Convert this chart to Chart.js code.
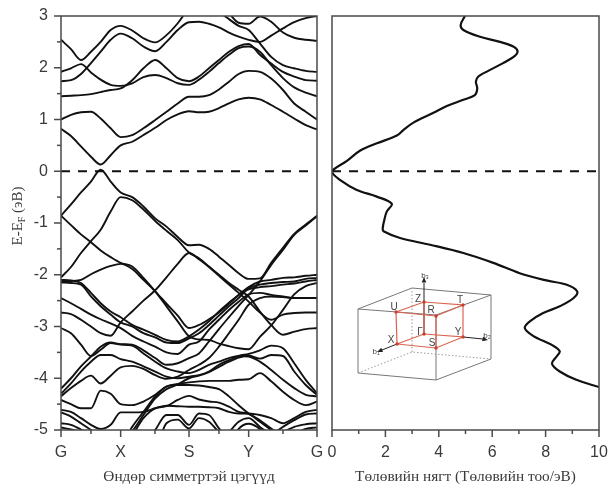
<!DOCTYPE html>
<html>
<head>
<meta charset="utf-8">
<script src="https://cdn.jsdelivr.net/npm/chart.js@4"></script>
<style>
  html, body { margin: 0; padding: 0; background: #fff; overflow: hidden; }
  canvas { position: absolute; top: 0; filter: blur(0.45px); }
  #bands { left: 0; }
  #dos { left: 325px; }
</style>
</head>
<body>
<canvas id="bands" width="325" height="487"></canvas>
<canvas id="dos" width="283" height="487"></canvas>
<script>
// ----------------- datos -----------------
const kTicks = [0, 0.233, 0.5, 0.733, 1];
const kLabels = ["G", "X", "S", "Y", "G"];
const kGrid = [0, 0.039, 0.078, 0.117, 0.155, 0.194, 0.233, 0.278, 0.322, 0.368, 0.412, 0.456, 0.5,
  0.539, 0.578, 0.617, 0.656, 0.694, 0.733, 0.777, 0.821, 0.867, 0.911, 0.956, 1];

const bandA = [.82,.68,.48,.28,.13,.31,.5,.57,.7,.84,.99,1.1,1.16,1.14,1.15,1.22,1.31,1.39,1.42,1.39,1.28,1.15,1.02,.89,.81];
const bandB = [1,1.09,1.14,1.15,1.02,.83,.66,.7,.83,.99,1.15,1.31,1.44,1.44,1.47,1.58,1.73,1.88,1.94,1.92,1.79,1.57,1.31,1.15,1];
const bandC = [1.45,1.46,1.47,1.49,1.53,1.57,1.6,1.76,1.99,2.15,1.99,1.8,1.74,1.83,1.99,2.15,2.31,2.42,2.46,2.25,2.08,1.92,1.83,1.76,1.75];
const bandD = [1.92,1.99,2.07,1.91,1.77,1.67,1.65,1.7,1.82,1.86,1.8,1.7,1.67,1.77,1.92,2.09,2.25,2.38,2.41,2.31,2.05,1.8,1.62,1.52,1.45];
const bandE = [2.54,2.36,2.15,2.31,2.5,2.73,2.81,2.72,2.57,2.49,2.63,2.86,3.15,3.3,3.3,3.2,3.05,2.87,2.85,2.99,2.89,2.68,2.58,2.54,2.52];
const bandF = [1.74,1.76,1.88,2.09,2.31,2.54,2.66,2.57,2.41,2.32,2.5,2.73,2.88,2.89,2.85,2.78,2.68,2.6,2.54,2.5,2.62,2.76,2.88,2.96,3];
const bandG = [3.4,3.4,3.4,3.4,3.4,3.4,3.4,3.4,3.4,3.4,3.4,3.4,3.4,3.4,3.4,3.1,2.94,2.81,2.73,2.47,2.21,2.05,1.99,1.94,1.92];

const band01 = [-.86,-.64,-.41,-.2,.03,-.2,-.41,-.5,-.68,-.91,-1.07,-1.27,-1.43,-1.42,-1.5,-1.65,-1.81,-1.97,-2.08,-2.07,-1.77,-1.48,-1.21,-1.03,-.86];
const band02 = [-2.05,-1.85,-1.58,-1.35,-1.13,-.78,-.5,-.56,-.74,-.96,-1.15,-1.33,-1.57,-1.68,-1.84,-2,-2.16,-2.29,-2.42,-2.71,-2.97,-3.16,-3.1,-3.05,-3.03];
const band03 = [-.86,-1.04,-1.22,-1.37,-1.53,-1.66,-1.77,-1.84,-2.06,-2.32,-2.61,-2.9,-3.19,-3.25,-3.26,-3.33,-3.38,-3.42,-3.44,-3.2,-2.98,-2.68,-2.38,-2.22,-2.16];
const band04 = [-2.1,-2.11,-2.16,-2.35,-2.55,-2.71,-2.82,-2.97,-3.06,-3.16,-3.26,-3.29,-3.19,-3.06,-2.9,-2.71,-2.54,-2.39,-2.28,-2.24,-2.22,-2.19,-2.17,-2.13,-2.1];
const band05 = [-2.15,-2.16,-2.19,-2.42,-2.61,-2.77,-2.92,-3,-3.13,-3.21,-3.31,-3.32,-3.23,-3.13,-2.97,-2.79,-2.61,-2.45,-2.26,-2.19,-2.16,-2.14,-2.13,-2.08,-2.06];
const band06 = [-2.13,-2.12,-2.1,-1.99,-1.9,-1.83,-1.79,-1.89,-2.1,-2.32,-2.56,-2.79,-3.03,-2.97,-2.86,-2.73,-2.56,-2.39,-2.24,-2.13,-2.1,-2.06,-2.05,-2.02,-2];
const band07 = [-2.45,-2.55,-2.66,-2.77,-2.86,-2.94,-3.03,-3.18,-3.29,-3.39,-3.5,-3.53,-3.35,-3.29,-3.06,-2.87,-2.68,-2.52,-2.38,-2.35,-2.39,-2.42,-2.45,-2.45,-2.45];
const band08 = [-2.73,-2.76,-2.87,-3,-3.13,-3.18,-2.92,-2.71,-2.5,-2.3,-2.05,-1.79,-1.58,-1.7,-1.85,-2.02,-2.19,-2.35,-2.52,-2.73,-2.87,-2.77,-2.74,-2.73,-2.73];
const band09 = [-3.03,-3.13,-3.35,-3.57,-3.45,-3.32,-3.35,-3.37,-3.52,-3.68,-3.81,-3.87,-3.9,-3.84,-3.74,-3.68,-3.61,-3.57,-3.58,-3.68,-3.84,-4.03,-4.19,-4.32,-4.35];
const band10 = [-4.2,-4,-3.77,-3.58,-3.39,-3.31,-3.34,-3.35,-3.46,-3.61,-3.74,-3.71,-3.61,-3.52,-3.29,-3.05,-2.82,-2.6,-2.39,-2.13,-1.81,-1.52,-1.23,-1.05,-.87];
const band11 = [-4.3,-4.1,-3.87,-3.68,-3.55,-3.55,-3.63,-3.68,-3.77,-3.87,-3.97,-4,-3.97,-3.94,-3.87,-3.74,-3.65,-3.57,-3.53,-3.46,-3.37,-3.42,-3.71,-4.03,-4.29];
const band12 = [-4.35,-4.19,-4.05,-3.95,-4.1,-3.95,-3.79,-3.76,-3.82,-3.94,-4.01,-3.97,-3.84,-3.74,-3.61,-3.39,-3.13,-2.87,-2.58,-2.45,-2.42,-2.43,-2.45,-2.45,-2.45];
const band13 = [-4.42,-4.5,-4.58,-4.58,-4.24,-4.3,-4.5,-4.52,-4.45,-4.32,-4.16,-4.13,-4.13,-4.14,-4.17,-4.21,-4.35,-4.52,-4.68,-4.81,-4.97,-5.1,-5.2,-5.3,-5.3];
const band14 = [-5.3,-5.3,-5.3,-5.3,-5.3,-5.3,-5.3,-4.94,-4.65,-4.35,-4.16,-4.11,-4.08,-4.06,-4.05,-4.05,-4.05,-4.03,-4.02,-3.9,-4.06,-4.26,-4.42,-4.52,-4.45];
const band15 = [-4.87,-4.9,-4.99,-5.1,-5.3,-5.3,-5.3,-5.03,-4.71,-4.39,-4.21,-4.12,-4,-3.95,-3.88,-3.78,-3.68,-3.6,-3.56,-3.62,-3.55,-3.57,-3.87,-4.13,-4.32];
const band16 = [-4.61,-4.65,-4.77,-4.9,-4.98,-4.9,-4.66,-4.66,-4.65,-4.58,-4.53,-4.54,-4.55,-4.55,-4.56,-4.58,-4.65,-4.68,-4.68,-4.71,-4.77,-4.87,-4.77,-4.65,-4.61];
const band17 = [-4.66,-4.74,-4.87,-5,-5.15,-5.3,-5.3,-5.3,-5.3,-5,-4.71,-4.71,-4.9,-4.68,-4.71,-4.97,-5.2,-5.3,-5.3,-5.3,-5.1,-4.94,-4.81,-4.7,-4.68];
const band18 = [-4.95,-4.99,-5.05,-5.2,-5.3,-5.3,-5.3,-5.3,-5.3,-5.3,-4.87,-4.8,-4.97,-4.77,-4.84,-5.05,-5.3,-5.3,-5.3,-5.3,-5.3,-5.05,-4.94,-4.89,-4.87];
const band19 = [-5.3,-5.3,-5.3,-5.3,-5.3,-5.3,-5.3,-5.1,-4.77,-4.58,-4.54,-4.42,-4.34,-4.41,-4.45,-4.47,-4.55,-4.65,-4.69,-4.84,-5,-5.15,-5.3,-5.3,-5.3];
const band20 = [-5.3,-5.3,-5.3,-5.3,-5.3,-5.3,-5.3,-5.3,-5.3,-5.3,-5.3,-5.3,-5.3,-5.3,-5.3,-5.3,-5.05,-4.84,-4.77,-4.94,-5.1,-5.3,-5.1,-4.98,-4.95];
const band21 = [-5.3,-5.3,-5.3,-5.3,-5.3,-5.3,-5.3,-5.3,-5.3,-5.3,-5.3,-5.3,-5.3,-5.3,-5.3,-5.3,-5.3,-4.98,-4.88,-4.98,-5.2,-5.3,-5.3,-5.3,-5.3];

const allBands = [bandA, bandB, bandC, bandD, bandE, bandF, bandG, band01, band02, band03, band04, band05,
  band06, band07, band08, band09, band10, band11, band12, band13, band14, band15, band16, band17, band18,
  band19, band20, band21];

// densidad de estados: energía y valor
const dosEnergy = [3,2.83,2.73,2.6,2.5,2.41,2.32,2.23,2.09,1.94,1.83,1.73,1.6,1.47,1.38,1.26,1.13,.94,.8,.69,.54,.4,.2,-.01,-.17,-.36,-.49,-.63,-.78,-.94,-1.1,-1.16,-1.29,-1.42,-1.58,-1.77,-1.97,-2.11,-2.19,-2.32,-2.45,-2.61,-2.74,-2.9,-3.03,-3.18,-3.37,-3.48,-3.58,-3.72,-3.87,-4.03,-4.17];
const dosValue = [4.98,4.82,4.92,5.54,6.29,6.79,6.95,6.85,6.41,5.85,5.48,5.39,5.44,5.35,4.92,4.3,3.8,3.05,2.68,2.43,1.68,1.06,.56,0,.31,.93,1.68,2.24,2.05,1.96,1.9,1.93,2.55,3.67,4.92,6.04,7.03,8.03,8.77,9.18,9.05,8.53,7.91,7.41,7.22,7.53,8.28,8.53,8.41,8.24,8.53,9.15,10];

const eMin = -5;
const eMax = 3;
const dosTicks = [0, 2, 4, 6, 8, 10];
const inkAxis = "#4a4a4a";
const inkText = "#3a3a3a";

// ----------------- marcas de eje -----------------
function axisMarks(xMajor, xMinor, yMajor, yMinor) {
  return {
    id: "axisMarks",
    afterDraw(chart) {
      const { ctx, chartArea: a, scales } = chart;
      ctx.save();
      ctx.strokeStyle = inkAxis;
      ctx.lineWidth = 1.5;
      ctx.strokeRect(a.left, a.top, a.right - a.left, a.bottom - a.top);
      const tick = (x1, y1, x2, y2) => {
        ctx.beginPath();
        ctx.moveTo(x1, y1);
        ctx.lineTo(x2, y2);
        ctx.stroke();
      };
      xMajor.forEach((v) => {
        const x = scales.x.getPixelForValue(v);
        tick(x, a.bottom, x, a.bottom + 7);
      });
      xMinor.forEach((v) => {
        const x = scales.x.getPixelForValue(v);
        tick(x, a.bottom, x, a.bottom + 4);
      });
      yMajor.forEach((v) => {
        const y = scales.y.getPixelForValue(v);
        tick(a.left, y, a.left - 7, y);
      });
      yMinor.forEach((v) => {
        const y = scales.y.getPixelForValue(v);
        tick(a.left, y, a.left - 4, y);
      });
      ctx.restore();
    },
  };
}

// título vertical con subíndice
const energyTitle = {
  id: "energyTitle",
  afterDraw(chart) {
    const { ctx } = chart;
    ctx.save();
    ctx.translate(22, 216);
    ctx.rotate(-Math.PI / 2);
    ctx.fillStyle = inkText;
    ctx.textBaseline = "alphabetic";
    const big = '15px "Liberation Serif"';
    const small = '10px "Liberation Serif"';
    ctx.font = big;
    const w1 = ctx.measureText("E-E").width;
    const w3 = ctx.measureText(" (эВ)").width;
    ctx.font = small;
    const w2 = ctx.measureText("F").width;
    let x = -(w1 + w2 + w3) / 2;
    ctx.font = big;
    ctx.fillText("E-E", x, 0);
    x += w1;
    ctx.font = small;
    ctx.fillText("F", x, 3);
    x += w2;
    ctx.font = big;
    ctx.fillText(" (эВ)", x, 0);
    ctx.restore();
  },
};

// esquema de la zona de Brillouin (coordenadas del lienzo derecho)
const zoneSketch = {
  id: "zoneSketch",
  afterDraw(chart) {
    const { ctx } = chart;
    const P = {
      A: [33, 79], B: [87, 58], C: [166, 65], D: [111, 85],
      E: [33, 143], F: [111, 150], G: [166, 129], H: [87, 122],
      U: [71, 82], Z: [99, 72], T: [138, 75], R: [111, 86],
      X: [72, 114], L: [99, 104], Y: [138, 107], S: [111, 118],
    };
    const line = (pts, color, width, dash) => {
      ctx.beginPath();
      ctx.strokeStyle = color;
      ctx.lineWidth = width;
      ctx.setLineDash(dash || []);
      pts.forEach((k, i) => {
        const p = typeof k === "string" ? P[k] : k;
        if (i === 0) ctx.moveTo(p[0], p[1]);
        else ctx.lineTo(p[0], p[1]);
      });
      ctx.stroke();
      ctx.setLineDash([]);
    };
    const arrow = (tip, from) => {
      const ang = Math.atan2(tip[1] - from[1], tip[0] - from[0]);
      ctx.beginPath();
      ctx.fillStyle = "#222";
      ctx.moveTo(tip[0], tip[1]);
      ctx.lineTo(tip[0] - 6 * Math.cos(ang - 0.4), tip[1] - 6 * Math.sin(ang - 0.4));
      ctx.lineTo(tip[0] - 6 * Math.cos(ang + 0.4), tip[1] - 6 * Math.sin(ang + 0.4));
      ctx.closePath();
      ctx.fill();
    };
    ctx.save();
    ctx.translate(0, 230);
    // caja
    line(["A", "B", "C", "D", "A"], "#777", 1);
    line(["A", "E", "F", "G", "C"], "#777", 1);
    line(["D", "F"], "#777", 1);
    line(["E", "H", "G"], "#999", 1, [1.5, 2]);
    line(["H", "B"], "#999", 1, [1.5, 2]);
    // ejes
    line(["L", [99, 53]], "#222", 1);
    arrow([99, 47], [99, 53]);
    line(["Y", [158, 109]], "#222", 1);
    arrow([163, 110], [158, 109]);
    line(["X", [57, 120]], "#222", 1);
    arrow([52, 122], [57, 120]);
    // celda roja
    const red = "#d9654f";
    line(["U", "Z", "T", "R", "U"], red, 1.2);
    line(["X", "L", "Y", "S", "X"], red, 1.2);
    line(["U", "X"], red, 1.2);
    line(["Z", "L"], red, 1.2);
    line(["T", "Y"], red, 1.2);
    line(["R", "S"], red, 1.2);
    ["U", "Z", "T", "R", "X", "L", "Y", "S"].forEach((k) => {
      ctx.beginPath();
      ctx.fillStyle = "#c8402e";
      ctx.arc(P[k][0], P[k][1], 1.7, 0, Math.PI * 2);
      ctx.fill();
    });
    // rótulos
    ctx.fillStyle = "#444";
    ctx.font = '10px "Liberation Sans"';
    ctx.textAlign = "center";
    ctx.textBaseline = "middle";
    [["U", 69, 77], ["Z", 93, 69], ["T", 135, 70], ["R", 106, 80], ["X", 66, 110],
     ["Γ", 95, 102], ["Y", 133, 102], ["S", 107, 113]].forEach((t) => ctx.fillText(t[0], t[1], t[2]));
    ctx.font = '8px "Liberation Sans"';
    [["b₃", 100, 46], ["b₂", 162, 106], ["b₁", 51, 122]].forEach((t) => ctx.fillText(t[0], t[1], t[2]));
    ctx.restore();
  },
};

// ----------------- gráficos -----------------
const tickFont = { family: '"Liberation Sans"', size: 16 };
const titleFont = { family: '"Liberation Serif"', size: 15.3 };

// el relleno de etiquetas de Chart.js encoge el área: se anula para fijarla
function fixXAxis(scale) {
  scale.height = 56;
  scale.paddingLeft = 0;
  scale.paddingRight = 0;
}
function fixYAxis(scale) {
  scale.width = 61;
  scale.paddingTop = 0;
  scale.paddingBottom = 0;
}

function zeroLine(xFrom, xTo) {
  return {
    data: [{ x: xFrom, y: 0 }, { x: xTo, y: 0 }],
    borderColor: "#111",
    borderWidth: 2,
    borderDash: [9, 8],
    pointRadius: 0,
  };
}

new Chart(document.getElementById("bands"), {
  type: "line",
  data: {
    datasets: [
      ...allBands.map((band) => ({
        data: band.map((e, i) => ({ x: kGrid[i], y: e })),
        borderColor: "#111",
        borderWidth: 1.9,
        pointRadius: 0,
        cubicInterpolationMode: "monotone",
      })),
      zeroLine(0, 0.99),
    ],
  },
  options: {
    animation: false,
    responsive: false,
    parsing: false,
    layout: { padding: { top: 16, right: 8, bottom: 1 } },
    plugins: { legend: { display: false }, tooltip: { enabled: false } },
    scales: {
      x: {
        type: "linear",
        min: 0,
        max: 1,
        grid: { display: false },
        border: { display: false },
        afterBuildTicks(scale) {
          scale.ticks = kTicks.map((v) => ({ value: v }));
        },
        afterFit: fixXAxis,
        ticks: {
          color: inkText,
          font: tickFont,
          padding: 5,
          maxRotation: 0,
          autoSkip: false,
          callback: (v, i) => kLabels[i],
        },
        title: { display: true, text: "Өндөр симметртэй цэгүүд", color: inkText, font: titleFont, padding: 0 },
      },
      y: {
        min: eMin,
        max: eMax,
        grid: { display: false },
        border: { display: false },
        afterFit: fixYAxis,
        ticks: { stepSize: 1, color: inkText, font: tickFont, padding: 5 },
      },
    },
  },
  plugins: [
    axisMarks(kTicks, [0.117, 0.367, 0.617, 0.867], [-5, -4, -3, -2, -1, 0, 1, 2, 3],
      [-4.5, -3.5, -2.5, -1.5, -0.5, 0.5, 1.5, 2.5]),
    energyTitle,
  ],
});

new Chart(document.getElementById("dos"), {
  type: "line",
  data: {
    datasets: [
      {
        data: dosValue.map((v, i) => ({ x: v, y: dosEnergy[i] })),
        borderColor: "#111",
        borderWidth: 2.2,
        pointRadius: 0,
        tension: 0.35,
      },
      zeroLine(0, 10),
    ],
  },
  options: {
    animation: false,
    responsive: false,
    parsing: false,
    layout: { padding: { top: 16, left: 7, right: 9, bottom: 1 } },
    plugins: { legend: { display: false }, tooltip: { enabled: false } },
    scales: {
      x: {
        type: "linear",
        min: 0,
        max: 10,
        grid: { display: false },
        border: { display: false },
        afterFit: fixXAxis,
        ticks: { stepSize: 2, color: inkText, font: tickFont, padding: 5, maxRotation: 0 },
        title: { display: true, text: "Төлөвийн нягт (Төлөвийн тоо/эВ)", color: inkText, font: titleFont, padding: 0 },
      },
      y: { display: false, min: eMin, max: eMax },
    },
  },
  plugins: [axisMarks(dosTicks, [1, 3, 5, 7, 9], [], []), zoneSketch],
});
</script>
</body>
</html>
